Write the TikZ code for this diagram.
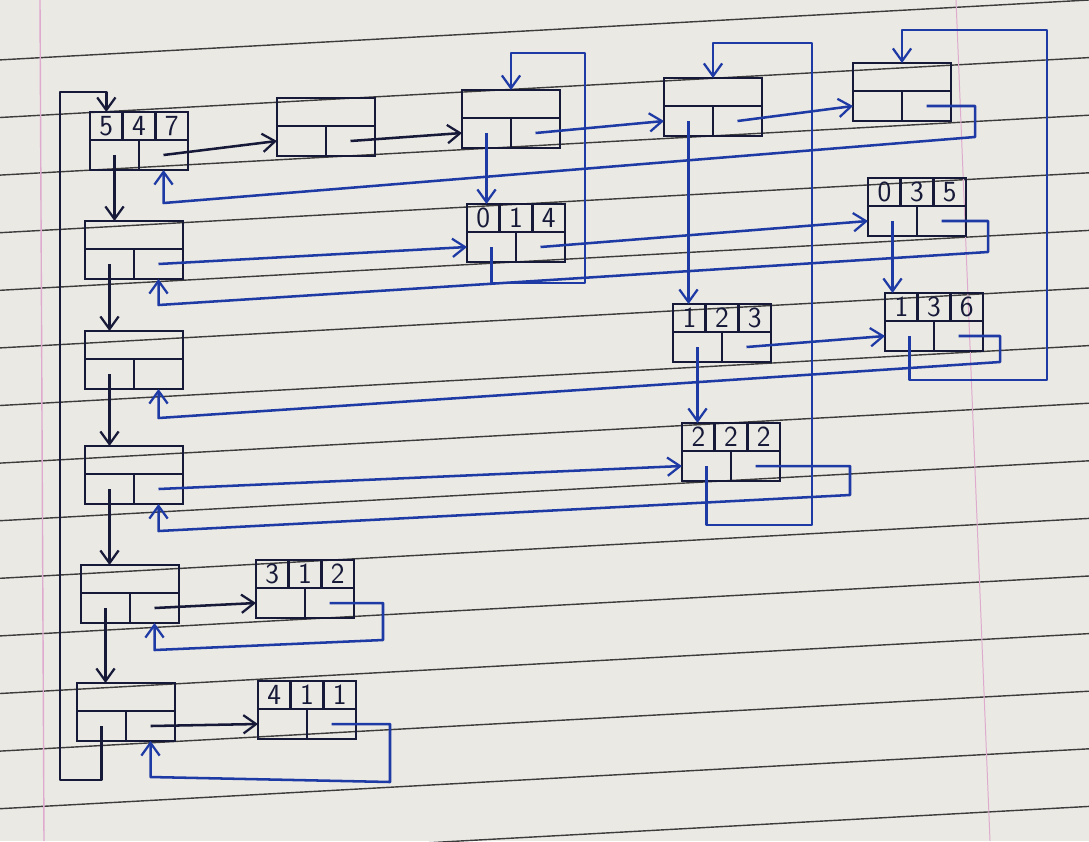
\documentclass[tikz,border=0pt]{standalone}
\usepackage{tikz}
\usetikzlibrary{
  arrows.meta,
  positioning,
  calc
}
\definecolor{paper}{RGB}{235,233,228}
\definecolor{ruling}{RGB}{60,60,60}
\definecolor{margin}{RGB}{222,170,205}
\definecolor{inkdark}{RGB}{22,26,56}
\definecolor{inkblue}{RGB}{30,58,165}

% one term: three value cells on top, down and right pointers below
\newcommand{\elemnode}[6]{%
  \node[valcell, anchor=north west] (#1-a) at (#2,#3) {#4};
  \node[valcell, right=0pt of #1-a] (#1-b) {#5};
  \node[valcell, right=0pt of #1-b] (#1-c) {#6};
  \node[ptrcell, anchor=north west] (#1-d) at (#1-a.south west) {};
  \node[ptrcell, right=0pt of #1-d] (#1-r) {};
}
% one row or column header: empty top, two pointers below
\newcommand{\hdrnode}[3]{%
  \node[topcell, anchor=north west] (#1-t) at (#2,#3) {};
  \node[ptrcell, anchor=north west] (#1-d) at (#1-t.south west) {};
  \node[ptrcell, right=0pt of #1-d] (#1-r) {};
}

\begin{document}
\begin{tikzpicture}[x=0.025cm, y=-0.025cm,
  valcell/.style={draw=inkdark, line width=2pt, outer sep=0pt, inner sep=0pt, minimum width=0.817cm, minimum height=0.7cm, font=\huge\sffamily, text=inkdark},
  ptrcell/.style={draw=inkdark, line width=2pt, outer sep=0pt, inner sep=0pt, minimum width=1.225cm, minimum height=0.75cm},
  topcell/.style={draw=inkdark, line width=2pt, outer sep=0pt, inner sep=0pt, minimum width=2.45cm, minimum height=0.7cm},
  link/.style={-{Straight Barb[length=9pt, width=13pt, line width=1.6pt]}, line width=1.8pt, line join=round, inkblue},
  darklink/.style={link, inkdark},
  ruleline/.style={ruling, line width=1pt}
]
  \useasboundingbox (0,0) rectangle (1089,841);
  \fill[paper] (0,0) rectangle (1089,841);
  % the ruled sheet
  \begin{scope}
    \clip (0,0) rectangle (1089,841);
    \foreach \i in {-1,...,13}
      \draw[ruleline] (0,{117.5+57.6*\i}) -- (1089,{57.6+57.6*\i});
    \draw[margin, line width=1pt] (40,0) -- (44,841);
    \draw[margin, line width=0.7pt] (956,0) -- (990,841);
  \end{scope}

  % head node
  \elemnode{head}{90}{112}{5}{4}{7}
  % column headers
  \hdrnode{colA}{277}{98}
  \hdrnode{colB}{462}{90}
  \hdrnode{colC}{664}{78}
  \hdrnode{colD}{853}{63}
  % row headers
  \hdrnode{rowA}{85}{221}
  \hdrnode{rowB}{85}{331}
  \hdrnode{rowC}{85}{446}
  \hdrnode{rowD}{81}{565}
  \hdrnode{rowE}{77}{683}
  % terms
  \elemnode{t014}{467}{204}{0}{1}{4}
  \elemnode{t035}{868}{178}{0}{3}{5}
  \elemnode{t123}{673}{304}{1}{2}{3}
  \elemnode{t136}{885}{293}{1}{3}{6}
  \elemnode{t222}{682}{423}{2}{2}{2}
  \elemnode{t312}{256}{560}{3}{1}{2}
  \elemnode{t411}{258}{681}{4}{1}{1}

  % head and header chains
  \draw[darklink] (head-r.center) -- (colA-d.west);
  \draw[darklink] (head-d.center) -- (head-d.center |- rowA-t.north);
  \draw[darklink] (colA-r.center) -- (colB-d.west);
  \draw[link] (colB-r.center) -- (colC-d.west);
  \draw[link] (colC-r.center) -- (colD-d.west);
  \coordinate (colDturn) at (975,137);
  \draw[link] (colD-r.center) -| (colDturn) -- ($(head-r.south)+(0,33)$) -- (head-r.south);
  \foreach \a/\b in {rowA/rowB, rowB/rowC, rowC/rowD, rowD/rowE}
    \draw[darklink] (\a-d.center) -- (\a-d.center |- \b-t.north);
  \coordinate (leftlow) at (60,780);
  \coordinate (lefttop) at (60,92);
  \draw[darklink] (rowE-d.center) |- (leftlow) -- (lefttop) -| (head-a.north);

  % rows
  \draw[link] (rowA-r.center) -- (t014-d.west);
  \draw[link] (t014-r.center) -- (t035-d.west);
  \coordinate (t035turn) at (988,252);
  \draw[link] (t035-r.center) -| (t035turn) -- ($(rowA-r.south)+(0,26)$) -- (rowA-r.south);
  \draw[link] (t123-r.center) -- (t136-d.west);
  \coordinate (t136turn) at (1000,362);
  \draw[link] (t136-r.center) -| (t136turn) -- ($(rowB-r.south)+(0,29)$) -- (rowB-r.south);
  \draw[link] (rowC-r.center) -- (t222-d.west);
  \coordinate (t222turn) at (850,495);
  \draw[link] (t222-r.center) -| (t222turn) -- ($(rowC-r.south)+(0,27)$) -- (rowC-r.south);
  \draw[darklink] (rowD-r.center) -- (t312-d.west);
  \coordinate (t312turn) at (383,640);
  \draw[link] (t312-r.center) -| (t312turn) -- ($(rowD-r.south)+(0,27)$) -- (rowD-r.south);
  \draw[darklink] (rowE-r.center) -- (t411-d.west);
  \coordinate (t411turn) at (390,782);
  \draw[link] (t411-r.center) -| (t411turn) -- ($(rowE-r.south)+(0,36)$) -- (rowE-r.south);

  % columns
  \draw[link] (colB-d.center) -- (colB-d.center |- t014-a.north);
  \coordinate (colBlow) at (585,283);
  \coordinate (colBtop) at (585,53);
  \draw[link] (t014-d.center) |- (colBlow) -- (colBtop) -| (colB-t.north);
  \draw[link] (colC-d.center) -- (colC-d.center |- t123-a.north);
  \draw[link] (t123-d.center) -- (t123-d.center |- t222-a.north);
  \coordinate (colClow) at (812,525);
  \coordinate (colCtop) at (812,43);
  \draw[link] (t222-d.center) |- (colClow) -- (colCtop) -| (colC-t.north);
  \draw[link] (t035-d.center) -- (t035-d.center |- t136-a.north);
  \coordinate (colDlow) at (1047,380);
  \coordinate (colDtop) at (1047,30);
  \draw[link] (t136-d.center) |- (colDlow) -- (colDtop) -| (colD-t.north);
\end{tikzpicture}
\end{document}
